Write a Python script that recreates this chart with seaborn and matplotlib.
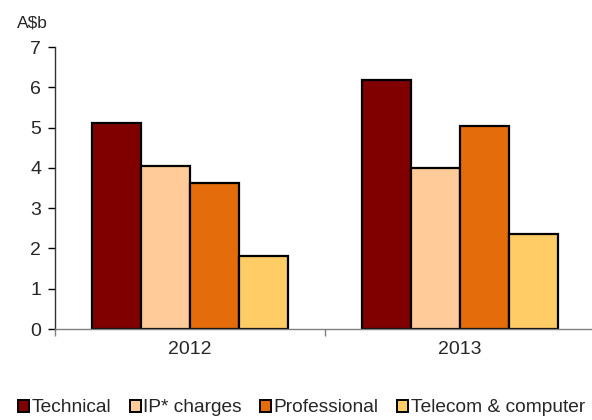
import numpy as np
import pandas as pd
import matplotlib
matplotlib.use("Agg")
import matplotlib.pyplot as plt
import seaborn as sns

# Chart data (A$b)
years = ["2012", "2013"]
series = ["Technical", "IP* charges", "Professional", "Telecom & computer"]
technical = [5.11, 6.19]
ip_charges = [4.04, 3.99]
professional = [3.63, 5.05]
telecom = [1.81, 2.35]
colors = ["#800000", "#FFCC99", "#E46C0A", "#FFCC66"]

rows = []
for name, vals in zip(series, [technical, ip_charges, professional, telecom]):
    for yr, v in zip(years, vals):
        rows.append({"year": yr, "series": name, "value": v})
df = pd.DataFrame(rows)

sns.set_style("white")
plt.rcParams["font.family"] = ["Liberation Sans", "DejaVu Sans"]

fig = plt.figure(figsize=(5.92, 4.2), dpi=100)
ax = fig.add_axes([55.2 / 592, 91 / 420, (594.5 - 55.2) / 592, (329 - 47) / 420])

sns.barplot(data=df, x="year", y="value", hue="series", hue_order=series,
            palette=colors, width=0.727, edgecolor="black", linewidth=1.6,
            saturation=1, ax=ax, legend=False)

ax.set_ylim(0, 7)
ax.set_xlim(-0.5, 1.5)
ax.set_yticks(range(8))
ax.set_xlabel("")
ax.set_ylabel("")
ax.tick_params(axis="y", labelsize=14, length=5, width=1, color="black",
               direction="out", left=True, pad=5)
ax.tick_params(axis="x", which="major", length=0, labelsize=14, pad=9)
ax.set_xticks([-0.5, 0.5, 1.5], minor=True)
ax.tick_params(axis="x", which="minor", length=5, width=1, color="#7f7f7f",
               direction="out", bottom=True)

for s in ["top", "right"]:
    ax.spines[s].set_visible(False)
ax.spines["left"].set_color("#333333")
ax.spines["bottom"].set_color("#7f7f7f")
ax.spines["left"].set_linewidth(1)
ax.spines["bottom"].set_linewidth(1)

fig.text(17 / 592, 1 - 23 / 420, "A$b", fontsize=12.5, va="center", ha="left")

handles = [plt.Rectangle((0, 0), 1, 1, facecolor=c, edgecolor="black", linewidth=1.4)
           for c in colors]
fig.legend(handles, series, loc="center left", bbox_to_anchor=(18 / 592, 1 - 408 / 420),
           ncol=4, frameon=False, fontsize=13.8, handlelength=0.58,
           handleheight=0.58, handletextpad=0.12, columnspacing=0.97,
           borderaxespad=0, borderpad=0)

fig.savefig("out.png", dpi=100)
